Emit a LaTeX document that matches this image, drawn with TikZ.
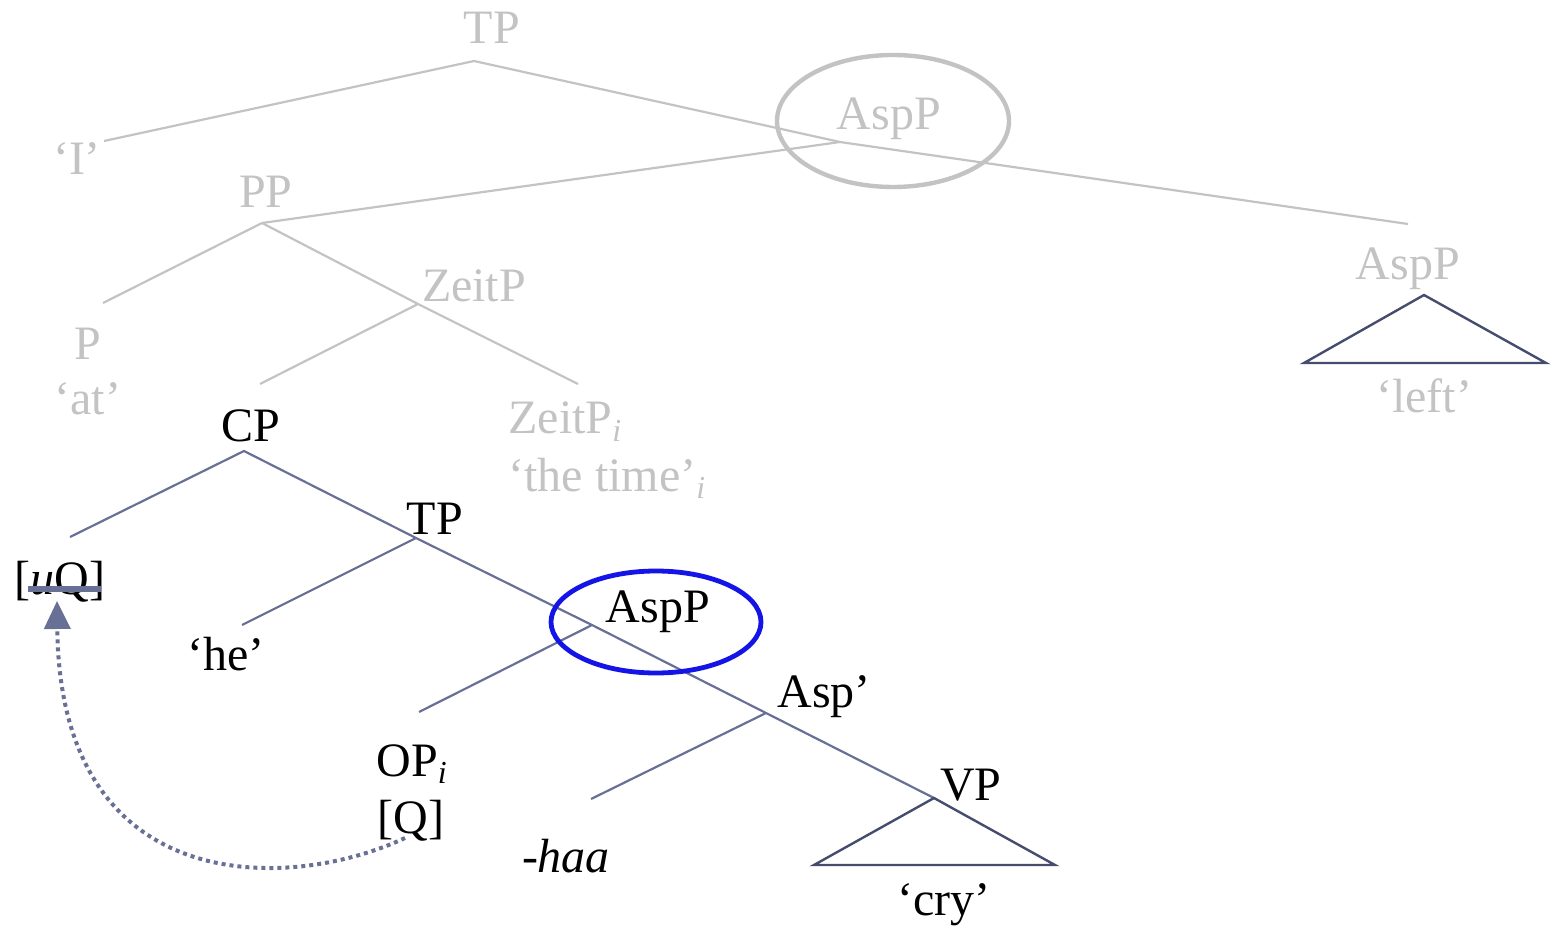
\documentclass[tikz,border=0pt]{standalone}
\usepackage{fontspec}
\setmainfont{Liberation Serif}
\usetikzlibrary{arrows.meta}
\definecolor{faded}{RGB}{195,195,195}
\definecolor{fadedline}{RGB}{195,195,195}
\definecolor{slate}{RGB}{105,112,150}
\definecolor{tri}{RGB}{70,76,110}
\definecolor{ovalblue}{RGB}{20,20,230}
\newcommand{\subi}{\raisebox{-0.35ex}{\fontsize{16}{16}\selectfont\itshape i}}
\tikzset{
  lab/.style={inner sep=0pt, anchor=base, font=\fontsize{24}{28}\selectfont},
  glab/.style={lab, text=faded},
  blab/.style={lab, text=black},
  gedge/.style={draw=fadedline, line width=1.1pt},
  bedge/.style={draw=slate, line width=1.1pt},
  triedge/.style={draw=tri, line width=1.2pt},
}
\begin{document}
\begin{tikzpicture}[x=0.5pt,y=-0.5pt]
\useasboundingbox (0,0) rectangle (1552,930);
% ---------- faded upper tree ----------
\node[glab] (tpTop) at (492,44) {TP};
\coordinate (jTP) at (474,61);
\node[glab] (lI) at (77,175) {‘I’};
\coordinate (eI) at (104,141);
\node[glab] (aspTop) at (889,130) {AspP};
\coordinate (jAsp) at (840,142);
\coordinate (eAspR) at (1408,224);
\node[glab] (aspR) at (1408,280) {AspP};
\node[glab] (left) at (1424,413) {‘left’};
\node[glab] (pp) at (266,208) {PP};
\coordinate (jPP) at (262,223);
\coordinate (eP) at (103,303);
\node[glab] (p) at (88,360) {P};
\node[glab] (at) at (88,415) {‘at’};
\node[glab] (zeit) at (474,302) {ZeitP};
\coordinate (jZeit) at (418,304);
\coordinate (eZeitI) at (578,384);
\node[glab, anchor=base west] (zeitI) at (508,434) {ZeitP\subi};
\node[glab, anchor=base west] (time) at (508,491) {‘the time’\subi};
\draw[gedge] (eI) -- (jTP) -- (jAsp) -- (eAspR);
\draw[gedge] (jAsp) -- (jPP) -- (eP);
\draw[gedge] (jPP) -- (jZeit) -- (eZeitI);
\draw[draw=faded, line width=2.2pt] (893,121) ellipse [x radius=116, y radius=66];
% right triangle
\coordinate (tRa) at (1424,295);
\coordinate (tRb) at (1304,363);
\coordinate (tRc) at (1546,363);
\draw[triedge] (tRa) -- (tRb) -- (tRc) -- cycle;
% ---------- lower tree ----------
\node[blab] (cp) at (251,442) {CP};
\coordinate (jCP) at (244,451);
\draw[gedge] (jZeit) -- (260,384) coordinate (eCP);
\coordinate (eUQ) at (70,537);
\node[blab] (uq) at (60,594) {[\textit{u}Q]};
\node[blab] (tpB) at (435,534) {TP};
\coordinate (jTPB) at (416,538);
\coordinate (eHe) at (242,625);
\node[blab] (he) at (226,670) {‘he’};
\node[blab] (aspB) at (658,622) {AspP};
\coordinate (jAspB) at (592,625);
\coordinate (eOP) at (419,712);
\node[blab, anchor=base west] (op) at (376,776) {OP\subi};
\node[blab] (q) at (411,833) {[Q]};
\node[blab] (aspbar) at (824,707) {Asp’};
\coordinate (jAspbar) at (766,713);
\coordinate (eHaa) at (591,799);
\node[blab] (haa) at (566,872) {\textit{-haa}};
\node[blab] (vp) at (971,800) {VP};
\coordinate (jVP) at (934,798);
\node[blab] (cry) at (944,915) {‘cry’};
\draw[bedge] (eUQ) -- (jCP) -- (jTPB) -- (jAspB) -- (jAspbar) -- (jVP);
\draw[bedge] (jTPB) -- (eHe);
\draw[bedge] (jAspB) -- (eOP);
\draw[bedge] (jAspbar) -- (eHaa);
\coordinate (tVb) at (814,865);
\coordinate (tVc) at (1055,865);
\draw[triedge] (jVP) -- (tVb) -- (tVc) -- cycle;
\draw[draw=ovalblue, line width=2.4pt] (656,622) ellipse [x radius=105, y radius=51];
% strike through uQ
\coordinate (sA) at (28,589);
\coordinate (sB) at (101,589);
\draw[draw=slate, line width=2.6pt] (sA) -- (sB);
% dotted arrow
\coordinate (arrS) at (405,838);
\coordinate (arrE) at (57,601);
\draw[draw=slate, line width=2pt, dotted, -{Triangle[width=13pt,length=14pt,fill=slate]}] (arrS) .. controls (290,892) and (60,900) .. (arrE);
\end{tikzpicture}
\end{document}
